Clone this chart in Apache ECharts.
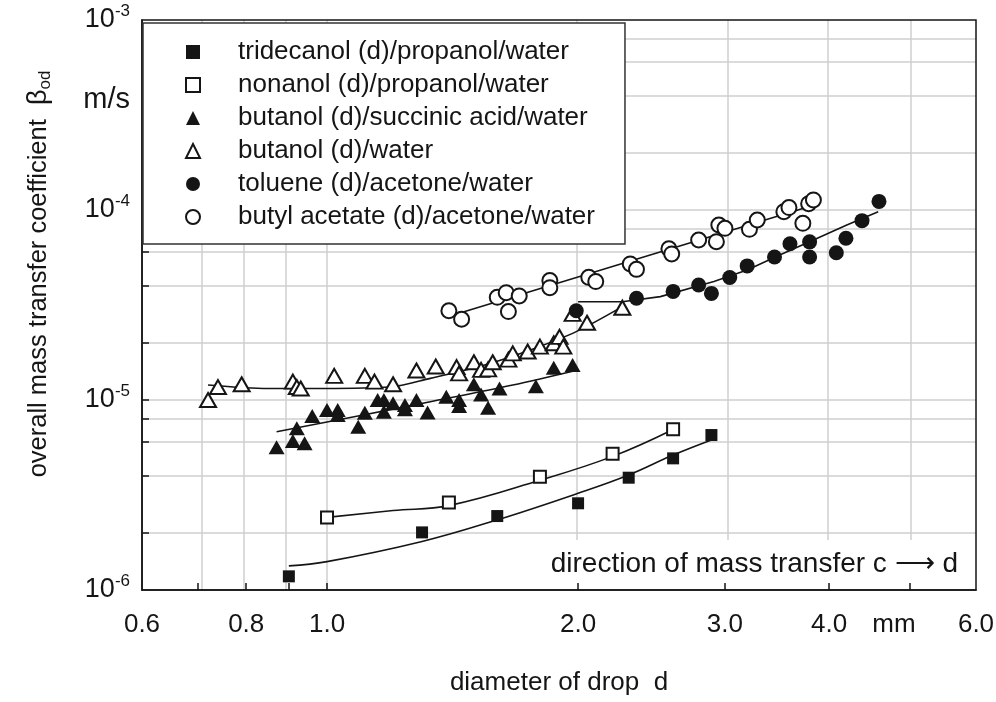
<!DOCTYPE html>
<html><head><meta charset="utf-8">
<script src="https://cdn.jsdelivr.net/npm/echarts@6/dist/echarts.min.js"></script>
<style>html,body{margin:0;padding:0;background:#fff}#c{width:996px;height:702px}</style>
</head><body><div id="c"></div>
<script>
// ---- axes / ticks ----
const xTickValues = [0.7, 0.8, 0.9, 1, 2, 3, 4, 5];
const xLabelValues = [0.6, 0.8, 1, 2, 3, 4, 5, 6];
const xLabelTexts = ['0.6', '0.8', '1.0', '2.0', '3.0', '4.0', 'mm', '6.0'];
const xGridValues = [0.7, 0.8, 0.9, 1, 2, 3, 4, 5];
const yLabelValues = [1e-6, 1e-5, 1e-4, 1e-3];
const yLabelExponents = ['-6', '-5', '-4', '-3'];
const yGridValues = [2e-6, 4e-6, 6e-6, 8e-6, 1e-5, 2e-5, 4e-5, 6e-5, 8e-5, 1e-4, 2e-4, 4e-4, 6e-4, 8e-4];
const xMin = 0.6, xMax = 6, yMin = 1e-6, yMax = 1e-3;

// ---- series names ----
const seriesNames = [
  'tridecanol (d)/propanol/water',
  'nonanol (d)/propanol/water',
  'butanol (d)/succinic acid/water',
  'butanol (d)/water',
  'toluene (d)/acetone/water',
  'butyl acetate (d)/acetone/water'
];

// ---- data: drop diameter d (mm) and beta_od (m/s) ----
const tridecanolD = [0.90, 1.30, 1.60, 2.00, 2.30, 2.60, 2.89];
const tridecanolB = [1.18e-6, 2.01e-6, 2.45e-6, 2.86e-6, 3.90e-6, 4.93e-6, 6.54e-6];
const tridecanolFitD = [0.90, 1.0, 1.3, 1.6, 2.0, 2.3, 2.6, 2.89];
const tridecanolFitB = [1.34e-6, 1.41e-6, 1.80e-6, 2.34e-6, 3.23e-6, 4.03e-6, 5.13e-6, 6.16e-6];

const nonanolD = [1.00, 1.40, 1.80, 2.20, 2.60];
const nonanolB = [2.41e-6, 2.89e-6, 3.95e-6, 5.22e-6, 7.01e-6];
const nonanolFitD = [1.0, 1.2, 1.4, 1.8, 2.2, 2.6];
const nonanolFitB = [2.41e-6, 2.62e-6, 2.78e-6, 3.78e-6, 5.05e-6, 7.0e-6];

const succinicD = [0.87, 0.91, 0.94, 0.92, 0.96, 1.00, 1.03, 1.03, 1.09, 1.11, 1.15, 1.17, 1.20, 1.17, 1.24, 1.24, 1.28, 1.32, 1.39, 1.44, 1.44, 1.50, 1.53, 1.56, 1.61, 1.78, 1.87, 1.97];
const succinicB = [5.64e-6, 6.09e-6, 5.92e-6, 7.10e-6, 8.24e-6, 8.86e-6, 8.86e-6, 8.34e-6, 7.24e-6, 8.58e-6, 1.0e-5, 1.0e-5, 9.61e-6, 8.68e-6, 9.4e-6, 8.93e-6, 1.0e-5, 8.6e-6, 1.04e-5, 1.0e-5, 9.3e-6, 1.21e-5, 1.07e-5, 9.1e-6, 1.15e-5, 1.18e-5, 1.48e-5, 1.53e-5];
const succinicFitD = [0.87, 1.105, 1.33, 1.67, 2.0];
const succinicFitB = [6.81e-6, 8.34e-6, 9.8e-6, 1.2e-5, 1.44e-5];

const butanolD = [0.72, 0.74, 0.79, 0.91, 0.92, 0.93, 1.02, 1.11, 1.14, 1.20, 1.28, 1.35, 1.43, 1.44, 1.50, 1.53, 1.56, 1.58, 1.65, 1.67, 1.74, 1.80, 1.87, 1.90, 1.92, 1.97, 2.05, 2.26];
const butanolB = [1.0e-5, 1.17e-5, 1.21e-5, 1.25e-5, 1.17e-5, 1.15e-5, 1.34e-5, 1.34e-5, 1.25e-5, 1.21e-5, 1.43e-5, 1.50e-5, 1.49e-5, 1.38e-5, 1.58e-5, 1.44e-5, 1.45e-5, 1.58e-5, 1.63e-5, 1.76e-5, 1.80e-5, 1.91e-5, 1.99e-5, 2.15e-5, 1.91e-5, 2.84e-5, 2.55e-5, 3.06e-5];
const butanolFitD = [0.72, 0.85, 0.99, 1.19, 1.33, 1.53, 1.75, 1.99, 2.26];
const butanolFitB = [1.2e-5, 1.15e-5, 1.15e-5, 1.17e-5, 1.30e-5, 1.51e-5, 1.83e-5, 2.29e-5, 3.1e-5];

const tolueneD = [1.99, 2.35, 2.60, 2.79, 2.89, 3.04, 3.19, 3.44, 3.59, 3.79, 3.79, 4.08, 4.19, 4.38, 4.59];
const tolueneB = [2.95e-5, 3.43e-5, 3.73e-5, 4.03e-5, 3.64e-5, 4.41e-5, 5.08e-5, 5.66e-5, 6.64e-5, 6.8e-5, 5.66e-5, 5.96e-5, 7.1e-5, 8.79e-5, 1.11e-4];
const tolueneFitD = [2.0, 2.26, 2.51, 2.91, 3.19, 3.49, 3.83, 4.2, 4.58];
const tolueneFitB = [3.29e-5, 3.29e-5, 3.50e-5, 4.2e-5, 4.83e-5, 5.8e-5, 6.95e-5, 8.34e-5, 9.8e-5];

const butylD = [1.40, 1.45, 1.60, 1.64, 1.65, 1.70, 1.85, 1.85, 2.06, 2.10, 2.31, 2.35, 2.57, 2.59, 2.79, 2.93, 2.95, 3.00, 3.21, 3.28, 3.53, 3.58, 3.72, 3.78, 3.83];
const butylB = [2.95e-5, 2.66e-5, 3.47e-5, 3.67e-5, 2.92e-5, 3.53e-5, 4.25e-5, 3.90e-5, 4.42e-5, 4.20e-5, 5.20e-5, 4.87e-5, 6.25e-5, 5.87e-5, 6.95e-5, 6.81e-5, 8.34e-5, 8.01e-5, 7.91e-5, 8.86e-5, 9.8e-5, 1.03e-4, 8.51e-5, 1.08e-4, 1.13e-4];
const butylFitD = [1.44, 3.83];
const butylFitB = [2.86e-5, 1.06e-4];

// ---- build ----
const L = Math.log10;
const pts = (ds, bs) => ds.map((d, i) => [L(d), L(bs[i])]);
const FONT = "'Liberation Sans', Arial, Helvetica, sans-serif";
const INK = '#151515';
const GRIDC = '#cfcfcf';

const filled = { color: INK, opacity: 1 };
const open = { color: '#ffffff', borderColor: INK, borderWidth: 2, opacity: 1 };

function scatter(name, ds, bs, symbol, size, style) {
  return { type: 'scatter', name, data: pts(ds, bs), symbol, symbolSize: size,
    itemStyle: style, z: 5, silent: true, emphasis: { disabled: true } };
}
function fit(ds, bs, smooth) {
  return { type: 'line', name: '_fit', data: pts(ds, bs), symbol: 'none', showSymbol: false,
    smooth: smooth, lineStyle: { color: INK, width: 1.6 }, z: 4, silent: true };
}

const gridMarks = [
  ...xGridValues.map(v => ({ xAxis: L(v) })),
  ...yGridValues.map(v => ({ yAxis: L(v) }))
];

const chart = echarts.init(document.getElementById('c'), null, { renderer: 'canvas' });
chart.setOption({
  animation: false,
  backgroundColor: '#ffffff',
  textStyle: { fontFamily: FONT },
  grid: { left: 142, right: 20, top: 20, bottom: 112, show: true, borderColor: INK, borderWidth: 1.5,
    backgroundColor: 'transparent', z: 3, outerBoundsMode: 'none', containLabel: false },
  xAxis: {
    type: 'value', min: L(xMin), max: L(xMax), z: 3,
    axisLine: { show: true, onZero: false, lineStyle: { color: INK, width: 1.5 } },
    axisTick: { show: true, inside: true, length: 7, customValues: xTickValues.map(L), lineStyle: { color: INK, width: 1.5 } },
    splitLine: { show: false },
    axisLabel: {
      customValues: xLabelValues.map(L), margin: 22, color: INK, fontSize: 26, fontFamily: FONT,
      formatter: v => {
        const i = xLabelValues.findIndex(x => Math.abs(L(x) - v) < 1e-6);
        const t = i >= 0 ? xLabelTexts[i] : '';
        return t === 'mm' ? '{mm|mm}' : t;
      },
      rich: { mm: { fontSize: 26, fontFamily: FONT, color: INK, padding: [0, 32, 0, 0] } }
    },
    name: 'diameter of drop  d', nameLocation: 'middle', nameGap: 80,
    nameTextStyle: { fontSize: 26, color: INK, fontFamily: FONT }
  },
  yAxis: {
    type: 'value', min: L(yMin), max: L(yMax), z: 3,
    axisLine: { show: true, onZero: false, lineStyle: { color: INK, width: 1.5 } },
    axisTick: { show: true, inside: true, length: 7, customValues: yGridValues.map(L), lineStyle: { color: INK, width: 1.5 } },
    splitLine: { show: false },
    axisLabel: {
      customValues: yLabelValues.map(L), margin: 12, color: INK,
      formatter: v => {
        const i = yLabelValues.findIndex(x => Math.abs(L(x) - v) < 1e-6);
        return '{b|10}{s|' + (i >= 0 ? yLabelExponents[i] : '') + '}';
      },
      rich: {
        b: { fontSize: 27, fontFamily: FONT, color: INK, lineHeight: 34 },
        s: { fontSize: 17, fontFamily: FONT, color: INK, lineHeight: 17, verticalAlign: 'top' }
      }
    }
  },
  legend: {
    data: seriesNames, orient: 'vertical', left: 143, top: 23,
    backgroundColor: '#ffffff', borderColor: '#333333', borderWidth: 1.5, borderRadius: 0,
    padding: [15, 30, 13, 42], itemWidth: 14, itemHeight: 14, itemGap: 5,
    selectedMode: false, z: 6,
    textStyle: { fontSize: 26, color: INK, fontFamily: FONT, lineHeight: 28, padding: [0, 0, 0, 33] }
  },
  graphic: [
    { type: 'rect', z: 2, silent: true, shape: { x: 520, y: 540, width: 455, height: 49 }, style: { fill: '#ffffff' } },
    { type: 'text', z: 6, silent: true, x: 958, y: 564,
      style: { text: 'direction of mass transfer c \u27F6 d', fill: INK, font: '28px ' + FONT, align: 'right', verticalAlign: 'middle' } },
    { type: 'text', z: 6, silent: true, x: 130, y: 100,
      style: { text: 'm/s', fill: INK, font: '29px ' + FONT, align: 'right', verticalAlign: 'middle' } },
    { type: 'text', z: 6, silent: true, x: 39, y: 274, rotation: Math.PI / 2,
      style: { text: 'overall mass transfer coefficient  {g|\u03B2}{sub|od}', fill: INK, font: '25.5px ' + FONT,
        align: 'center', verticalAlign: 'middle',
        rich: { g: { fontSize: 27, fontFamily: FONT, fill: INK, lineHeight: 30 },
                sub: { fontSize: 17, fontFamily: FONT, fill: INK, lineHeight: 17, verticalAlign: 'bottom' } } } }
  ],
  series: [
    { type: 'line', name: '_grid', data: [[L(1), -5]], symbol: 'none', showSymbol: false, silent: true,
      lineStyle: { opacity: 0 },
      markLine: { silent: true, symbol: 'none', z: 1, animation: false, label: { show: false },
        lineStyle: { color: GRIDC, width: 1.5, type: 'solid' }, emphasis: { disabled: true }, data: gridMarks } },
    fit(tridecanolFitD, tridecanolFitB, 0.4),
    fit(nonanolFitD, nonanolFitB, 0.4),
    fit(succinicFitD, succinicFitB, 0.3),
    fit(butanolFitD, butanolFitB, 0.3),
    fit(tolueneFitD, tolueneFitB, false),
    fit(butylFitD, butylFitB, false),
    scatter(seriesNames[0], tridecanolD, tridecanolB, 'rect', 12, filled),
    scatter(seriesNames[1], nonanolD, nonanolB, 'rect', 12, open),
    scatter(seriesNames[2], succinicD, succinicB, 'triangle', [16, 14], filled),
    scatter(seriesNames[3], butanolD, butanolB, 'triangle', [16, 14], open),
    scatter(seriesNames[4], tolueneD, tolueneB, 'circle', 15, filled),
    scatter(seriesNames[5], butylD, butylB, 'circle', 15, open)
  ]
});
</script></body></html>
